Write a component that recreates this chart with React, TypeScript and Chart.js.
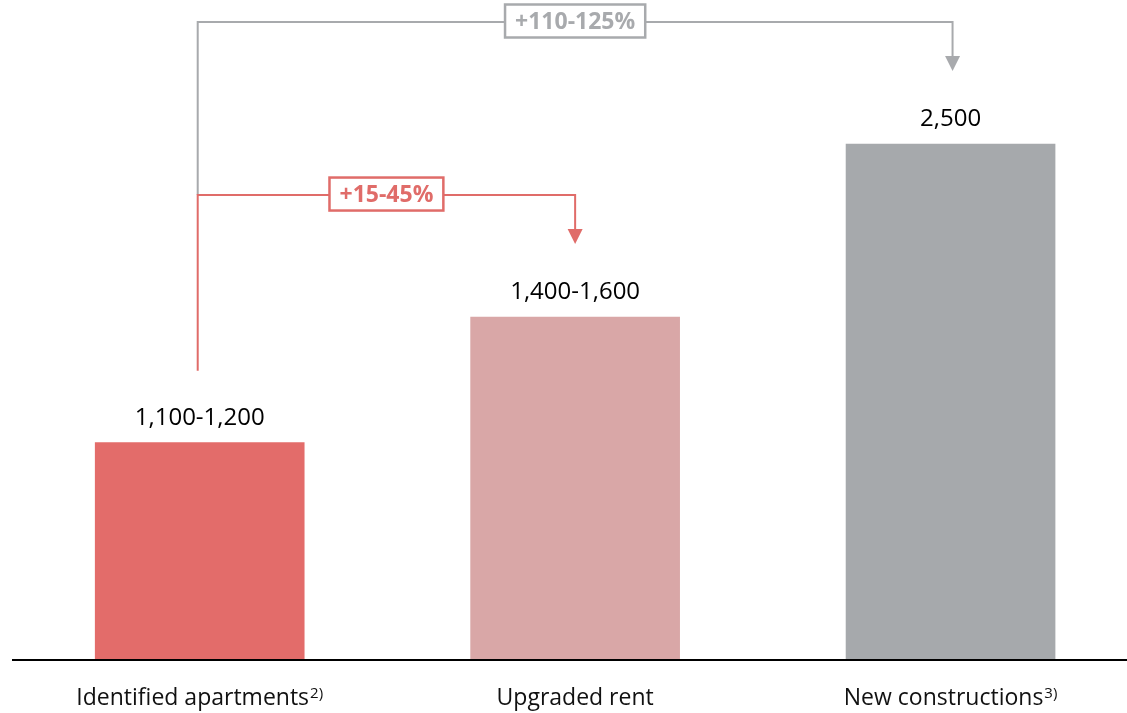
import React, { useEffect, useRef } from "react";
import { Chart, registerables } from "chart.js";

Chart.register(...registerables);

const categories = ["Identified apartments", "Upgraded rent", "New constructions"];
const footnotes = ["2)", "", "3)"];
const barValues = [1050, 1660, 2500];
const valueLabels = ["1,100-1,200", "1,400-1,600", "2,500"];
const barColors = ["#E36C6A", "#D9A7A7", "#A6A9AC"];
const growthLabels = ["+15-45%", "+110-125%"];
const growthFrom = [0, 0];
const growthTo = [1, 2];
const growthColors = ["#E06C69", "#A8AAAD"];

const FONT = '"Open Sans", "DejaVu Sans", sans-serif';

const overlayPlugin = {
  id: "overlay",
  afterDatasetsDraw(chart: any) {
    const ctx = chart.ctx as CanvasRenderingContext2D;
    const area = chart.chartArea;
    const bars = chart.getDatasetMeta(0).data;
    ctx.save();

    // axis line
    ctx.strokeStyle = "#000";
    ctx.lineWidth = 2;
    ctx.beginPath();
    ctx.moveTo(area.left, area.bottom + 1);
    ctx.lineTo(area.right, area.bottom + 1);
    ctx.stroke();

    // value labels
    ctx.fillStyle = "#000";
    ctx.font = `24px ${FONT}`;
    ctx.textAlign = "center";
    ctx.textBaseline = "alphabetic";
    bars.forEach((b: any, i: number) => {
      ctx.fillText(valueLabels[i], b.x, b.y - 18);
    });

    // category labels with superscripts
    const mainFont = `23px ${FONT}`;
    const supFont = `15px ${FONT}`;
    bars.forEach((b: any, i: number) => {
      ctx.font = mainFont;
      const w1 = ctx.measureText(categories[i]).width;
      ctx.font = supFont;
      const w2 = footnotes[i] ? ctx.measureText(footnotes[i]).width + 1 : 0;
      const start = b.x - (w1 + w2) / 2;
      ctx.textAlign = "left";
      ctx.fillStyle = "#111";
      ctx.font = mainFont;
      ctx.fillText(categories[i], start, area.bottom + 46);
      if (footnotes[i]) {
        ctx.font = supFont;
        ctx.fillText(footnotes[i], start + w1 + 1, area.bottom + 39);
      }
    });

    // growth brackets (draw gray first, red on top)
    const order = [1, 0];
    const drawBracket = (k: number) => {
      const from = bars[growthFrom[k]];
      const to = bars[growthTo[k]];
      const color = growthColors[k];
      const xs = from.x - 2;
      const xe = to.x + (k === 1 ? 2 : 0);
      const yh = to.y - 122;
      const yStart = k === 0 ? from.y - 72 : bars[growthTo[0]].y - 122;
      const tipY = to.y - 73;
      ctx.strokeStyle = color;
      ctx.lineWidth = 2;
      ctx.beginPath();
      ctx.moveTo(xs, yStart);
      ctx.lineTo(xs, yh);
      ctx.lineTo(xe, yh);
      ctx.lineTo(xe, tipY - 12);
      ctx.stroke();
      ctx.fillStyle = color;
      ctx.beginPath();
      ctx.moveTo(xe - 7.5, tipY - 15);
      ctx.lineTo(xe + 7.5, tipY - 15);
      ctx.lineTo(xe, tipY);
      ctx.closePath();
      ctx.fill();

      // label box
      ctx.font = `bold 23px ${FONT}`;
      const tw = ctx.measureText(growthLabels[k]).width;
      const bw = tw + 20;
      const bh = 33;
      const cx = (xs + xe) / 2;
      const cy = yh - 1;
      ctx.fillStyle = "#fff";
      ctx.fillRect(cx - bw / 2, cy - bh / 2, bw, bh);
      ctx.strokeStyle = color;
      ctx.lineWidth = 2.5;
      ctx.strokeRect(cx - bw / 2, cy - bh / 2, bw, bh);
      ctx.fillStyle = color;
      ctx.textAlign = "center";
      ctx.textBaseline = "middle";
      ctx.fillText(growthLabels[k], cx, cy + 1);
      ctx.textBaseline = "alphabetic";
    };
    order.forEach(drawBracket);

    ctx.restore();
  },
};

export default function App() {
  const ref = useRef<HTMLCanvasElement | null>(null);
  useEffect(() => {
    if (!ref.current) return;
    const chart = new Chart(ref.current, {
      type: "bar",
      data: {
        datasets: [
          {
            data: barValues.map((v, i) => ({ x: i, y: v })),
            backgroundColor: barColors,
            borderWidth: 0,
            barThickness: 209,
          } as any,
        ],
      },
      options: {
        responsive: false,
        animation: false,
        layout: { padding: { top: 41, bottom: 54, left: 12, right: 0 } },
        plugins: { legend: { display: false }, tooltip: { enabled: false } },
        scales: {
          x: { type: "linear", min: -0.5, max: 2.47, offset: false, display: false, grid: { offset: false } },
          y: { min: 0, max: 3000, display: false },
        },
      },
      plugins: [overlayPlugin],
    });
    return () => chart.destroy();
  }, []);
  return (
    <div style={{ position: "absolute", left: 0, top: 0, width: 1127, height: 713, background: "#fff" }}>
      <canvas ref={ref} width={1127} height={713} />
    </div>
  );
}
